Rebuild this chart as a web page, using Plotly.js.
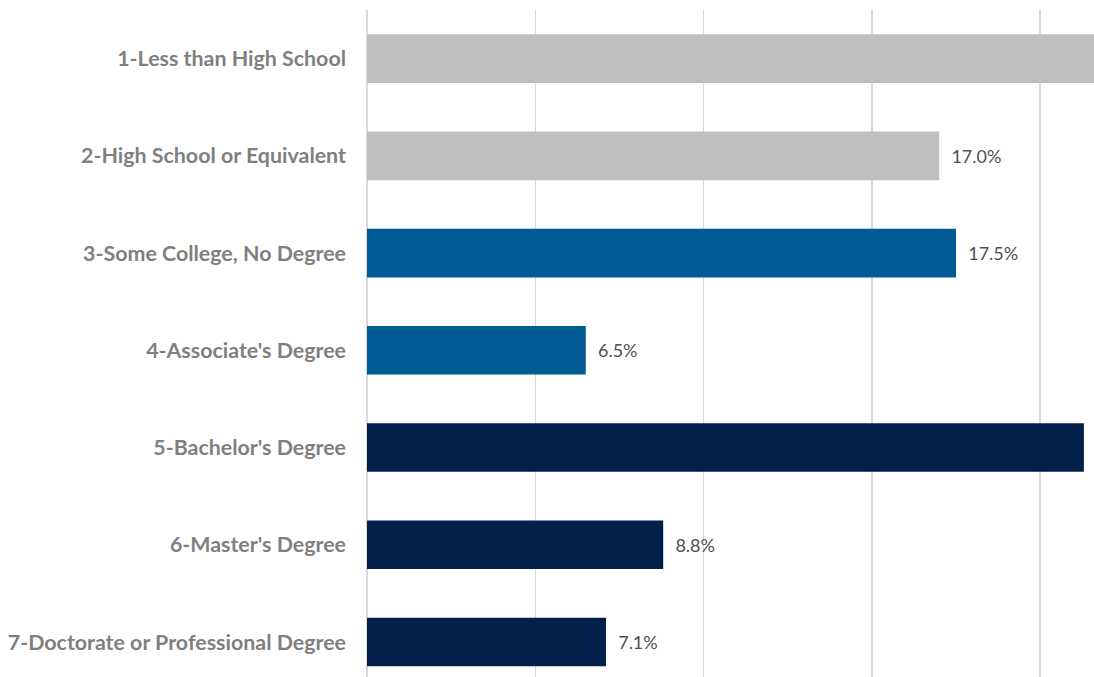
<!DOCTYPE html>
<html>
<head>
<meta charset="utf-8">
<script src="https://cdn.plot.ly/plotly-3.0.1.min.js"></script>
<style>html,body{margin:0;padding:0;background:#fff;}#chart{width:1094px;height:677px;}</style>
</head>
<body>
<div id="chart"></div>
<script>
const categories = [
  "1-Less than High School",
  "2-High School or Equivalent",
  "3-Some College, No Degree",
  "4-Associate's Degree",
  "5-Bachelor's Degree",
  "6-Master's Degree",
  "7-Doctorate or Professional Degree"
];
const values = [22.6, 17.0, 17.5, 6.5, 21.3, 8.8, 7.1];
const barColors = ["#BFBFBF", "#BFBFBF", "#005A94", "#005A94", "#022049", "#022049", "#022049"];

const xMax = 21.6;
// value labels of bars that run past the visible plot edge are cut off in the original
const labels = values.map(v => v < xMax - 2 ? "\u00a0\u00a0" + v.toFixed(1) + "%" : "");

const trace = {
  type: "bar",
  orientation: "h",
  x: values,
  y: categories,
  width: 0.5,
  marker: {color: barColors, line: {width: 0}},
  text: labels,
  texttemplate: "%{text}",
  textposition: "outside",
  cliponaxis: true,
  textfont: {family: "Lato, 'Open Sans', sans-serif", size: 18, color: "#505050"},
  hoverinfo: "skip"
};

const layout = {
  width: 1094,
  height: 677,
  margin: {l: 367, r: 0, t: 10, b: 0},
  paper_bgcolor: "#ffffff",
  plot_bgcolor: "#ffffff",
  showlegend: false,
  xaxis: {
    range: [0, xMax],
    dtick: 5,
    tick0: 0,
    showgrid: true,
    gridcolor: "#D9D9D9",
    gridwidth: 1.5,
    zeroline: true,
    zerolinecolor: "#D9D9D9",
    zerolinewidth: 1.5,
    showticklabels: false,
    showline: false,
    fixedrange: true
  },
  yaxis: {
    type: "category",
    categoryorder: "array",
    categoryarray: categories,
    range: [6.36, -0.5],
    showgrid: false,
    zeroline: false,
    showline: false,
    ticks: "",
    ticklabelstandoff: 20,
    tickfont: {family: "Lato, 'Open Sans', sans-serif", size: 21.4, color: "#7F7F7F", weight: "bold"},
    fixedrange: true
  }
};

Plotly.newPlot("chart", [trace], layout, {displayModeBar: false, staticPlot: true});
</script>
</body>
</html>
